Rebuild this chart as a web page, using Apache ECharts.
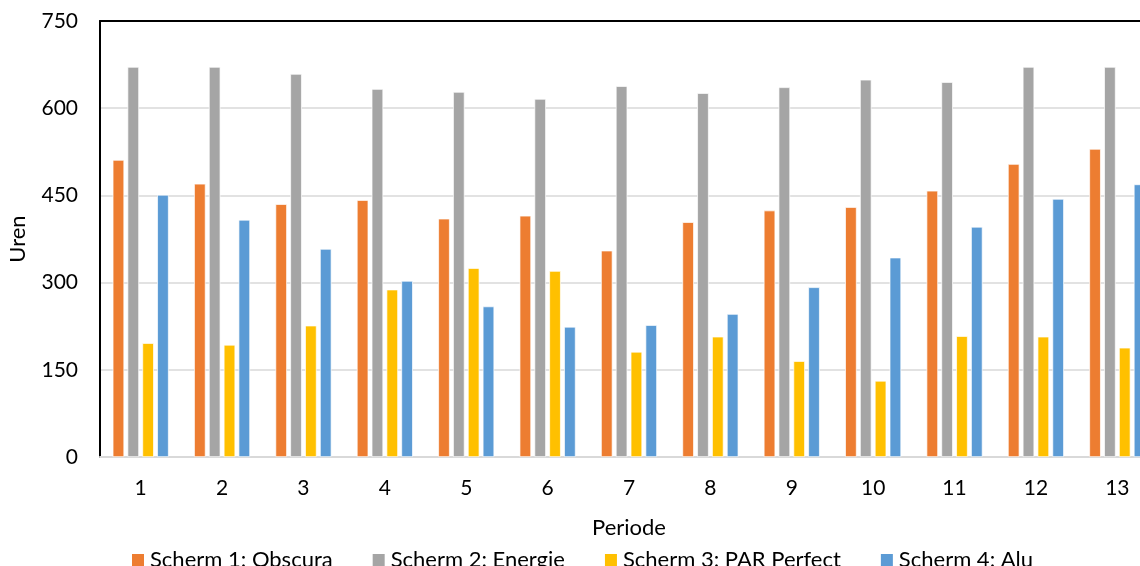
<!DOCTYPE html>
<html>
<head>
<meta charset="utf-8">
<script src="https://cdn.jsdelivr.net/npm/echarts@6/dist/echarts.min.js"></script>
<style>
  html, body { margin: 0; padding: 0; background: #fff; }
  #chart { width: 1140px; height: 566px; }
</style>
</head>
<body>
<div id="chart"></div>
<script>
// Periods on the x axis
const periods = ['1', '2', '3', '4', '5', '6', '7', '8', '9', '10', '11', '12', '13'];

// Hours per screen per period
const obscura    = [511, 470, 435, 442, 410, 415, 355, 404, 424, 430, 458, 504, 530];
const energie    = [671, 671, 659, 633, 628, 616, 638, 626, 636, 649, 645, 671, 671];
const parPerfect = [196, 193, 226, 288, 325, 320, 181, 207, 165, 131, 208, 207, 188];
const alu        = [451, 408, 358, 303, 259, 224, 227, 246, 292, 343, 396, 444, 469];

const seriesNames = ['Scherm 1: Obscura', 'Scherm 2: Energie', 'Scherm 3: PAR Perfect', 'Scherm 4: Alu'];
const seriesColors = ['#ED7D31', '#A5A5A5', '#FFC000', '#5B9BD5'];
const seriesData = [obscura, energie, parPerfect, alu];

const FONT = 'Lato, "Open Sans", sans-serif';

const chart = echarts.init(document.getElementById('chart'), null, { renderer: 'canvas' });

chart.setOption({
  animation: false,
  backgroundColor: '#fff',
  textStyle: { fontFamily: FONT },
  // plot area runs past the right edge of the canvas
  grid: { left: 100, top: 21, width: 1058, height: 436, outerBoundsMode: 'none', containLabel: false },
  legend: {
    top: 544, left: 125,
    itemWidth: 14, itemHeight: 14, itemGap: 38,
    icon: 'rect',
    textStyle: { fontFamily: FONT, fontSize: 22, color: '#000' },
    data: seriesNames
  },
  xAxis: [{
    type: 'category',
    data: periods,
    name: 'Periode',
    nameLocation: 'middle',
    nameGap: 60,
    nameTextStyle: { fontFamily: FONT, fontSize: 22, color: '#000' },
    axisLine: { lineStyle: { color: '#D9D9D9', width: 2 } },
    axisTick: { show: false },
    axisLabel: { fontFamily: FONT, fontSize: 21, color: '#000', margin: 21 }
  }, {
    // black frame line along the top of the plot
    type: 'category',
    data: periods,
    position: 'top',
    axisLine: { lineStyle: { color: '#000', width: 2 } },
    axisTick: { show: false },
    axisLabel: { show: false },
    splitLine: { show: false }
  }],
  yAxis: {
    type: 'value',
    min: 0, max: 750, interval: 150,
    name: 'Uren',
    nameLocation: 'middle',
    nameGap: 71,
    nameTextStyle: { fontFamily: FONT, fontSize: 22, color: '#000' },
    axisLine: { show: true, lineStyle: { color: '#000', width: 2 } },
    axisTick: { show: false },
    axisLabel: { fontFamily: FONT, fontSize: 21, color: '#000', margin: 22 },
    splitLine: { lineStyle: { color: '#D9D9D9', width: 1.5 } }
  },
  series: seriesData.map((d, i) => ({
    name: seriesNames[i],
    type: 'bar',
    data: d,
    xAxisIndex: 0,
    barWidth: 11.5,
    barGap: '29%',
    itemStyle: { color: seriesColors[i], borderColor: '#fff', borderWidth: 0.7 }
  }))
});
</script>
</body>
</html>
